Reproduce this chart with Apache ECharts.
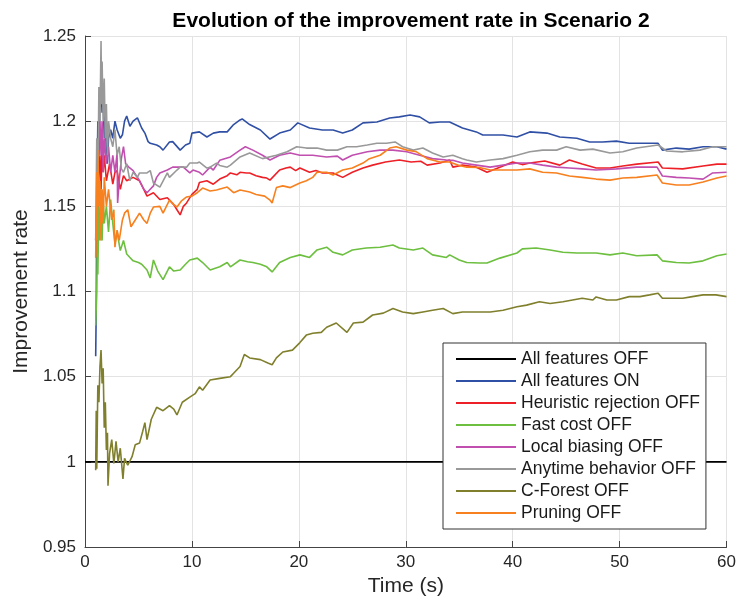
<!DOCTYPE html>
<html><head><meta charset="utf-8">
<script src="https://cdn.jsdelivr.net/npm/echarts@6/dist/echarts.min.js"></script>
<style>html,body{margin:0;padding:0;background:#fff}#c{width:739px;height:607px}</style>
</head><body><div id="c"></div>
<script>
const seriesNames = ["All features OFF","All features ON","Heuristic rejection OFF","Fast cost OFF","Local biasing OFF","Anytime behavior OFF","C-Forest OFF","Pruning OFF"];
const xTicks = [0,10,20,30,40,50,60];
const yTicks = [0.95,1,1.05,1.1,1.15,1.2,1.25];

const allOff = [[0,1],[60,1]];
const allOn = [[1.0,1.062],[1.05,1.09],[1.1,1.15],[1.2,1.20],[1.3,1.18],[1.4,1.215],[1.5,1.22],[1.6,1.205],[1.7,1.215],[1.8,1.19],[1.9,1.205],[2.0,1.18],[2.1,1.175],[2.2,1.19],[2.4,1.195],[2.6,1.19],[2.8,1.20],[3.0,1.195],[3.3,1.19],[3.5,1.192],[3.7,1.2],[3.9,1.203],[4.2,1.197],[4.5,1.2],[4.9,1.202],[5.3,1.196],[5.6,1.193],[5.9,1.188],[6.1,1.187],[6.7,1.186],[7.0,1.185],[7.3,1.183],[7.9,1.1878],[8.2,1.188],[8.9,1.183],[9.4,1.186],[9.8,1.187],[10.0,1.193],[10.7,1.1937],[11.4,1.1907],[12.0,1.193],[12.6,1.1937],[13.3,1.1937],[13.9,1.198],[14.5,1.2007],[14.7,1.2013],[15.4,1.198],[16.4,1.1948],[17.3,1.1895],[18.2,1.193],[19.2,1.1948],[19.9,1.199],[21.0,1.196],[22.2,1.1948],[23.2,1.1948],[24.1,1.193],[25.0,1.1948],[26.0,1.199],[27.3,1.1995],[28.5,1.2019],[29.4,1.2025],[30.4,1.2036],[31.3,1.2025],[32.2,1.199],[33.2,1.1995],[34.1,1.1995],[35.3,1.196],[36.6,1.1937],[37.2,1.1919],[37.9,1.1919],[39.1,1.1919],[40.4,1.1907],[41.6,1.1937],[43.2,1.193],[44.4,1.1907],[46.0,1.190],[47.2,1.1878],[48.4,1.1878],[49.7,1.1883],[50.9,1.187],[52.2,1.187],[53.6,1.187],[54.0,1.183],[55.3,1.1842],[56.5,1.1836],[57.8,1.185],[59.1,1.185],[60,1.1836]];
const heurOff = [[1.0,1.12],[1.1,1.125],[1.2,1.14],[1.3,1.17],[1.4,1.18],[1.5,1.16],[1.6,1.185],[1.7,1.17],[1.8,1.18],[2.0,1.165],[2.3,1.175],[2.6,1.163],[2.8,1.17],[3.0,1.171],[3.3,1.16],[3.6,1.168],[3.9,1.165],[4.5,1.167],[5.1,1.165],[5.5,1.16],[5.8,1.156],[6.4,1.158],[7.0,1.154],[7.7,1.155],[8.3,1.151],[8.6,1.148],[8.9,1.145],[9.2,1.15],[9.5,1.152],[10.0,1.157],[10.5,1.16],[10.7,1.164],[11.4,1.165],[12.0,1.163],[12.6,1.166],[13.3,1.168],[13.6,1.1696],[14.2,1.1685],[14.5,1.170],[15.1,1.1696],[15.4,1.1696],[16.0,1.168],[16.6,1.167],[17.0,1.1666],[17.3,1.1654],[17.7,1.168],[18.2,1.1713],[18.8,1.1725],[19.2,1.173],[19.7,1.171],[20.1,1.1725],[21.0,1.170],[21.6,1.171],[22.2,1.1696],[23.2,1.1696],[24.1,1.167],[25.0,1.170],[26.0,1.1725],[26.9,1.1742],[28.1,1.176],[29.4,1.1772],[30.5,1.176],[31.4,1.1765],[32.0,1.1742],[33.2,1.1754],[34.1,1.1772],[34.4,1.173],[35.3,1.1742],[36.6,1.173],[37.6,1.170],[38.8,1.173],[40.0,1.176],[40.9,1.1745],[41.6,1.1754],[43.0,1.1766],[44.4,1.1742],[45.3,1.1772],[46.5,1.1748],[47.8,1.1725],[49.1,1.1725],[50.3,1.1737],[51.6,1.1748],[53.6,1.176],[54.0,1.1725],[55.9,1.172],[57.8,1.1737],[59.1,1.1748],[60,1.1748]];
const fastOff = [[1.0,1.08],[1.1,1.10],[1.15,1.13],[1.2,1.11],[1.3,1.15],[1.4,1.13],[1.5,1.16],[1.6,1.13],[1.7,1.155],[1.8,1.14],[2.0,1.15],[2.2,1.135],[2.4,1.154],[2.6,1.14],[2.8,1.128],[3.0,1.135],[3.3,1.124],[3.6,1.13],[3.9,1.122],[4.2,1.12],[4.5,1.118],[5.0,1.117],[5.3,1.116],[5.8,1.1126],[6.1,1.108],[6.4,1.1185],[6.8,1.112],[7.3,1.107],[7.9,1.1145],[8.3,1.112],[8.9,1.1126],[9.4,1.116],[9.8,1.1185],[10.5,1.1196],[11.0,1.117],[11.7,1.1126],[12.6,1.1145],[13.3,1.117],[13.6,1.1145],[14.5,1.1185],[15.2,1.1175],[15.7,1.117],[16.4,1.116],[17.0,1.1145],[17.5,1.1115],[18.2,1.117],[19.2,1.120],[20.1,1.1215],[21.0,1.120],[21.7,1.1244],[22.6,1.126],[23.2,1.123],[24.1,1.1215],[25.0,1.1244],[26.3,1.1255],[27.6,1.126],[28.8,1.1273],[29.4,1.1255],[30.7,1.1244],[31.6,1.1255],[32.5,1.1215],[33.8,1.120],[34.1,1.1215],[35.0,1.1185],[35.7,1.117],[36.9,1.1167],[37.6,1.1167],[38.8,1.1196],[40.4,1.1226],[40.9,1.125],[42.2,1.1255],[43.5,1.1244],[44.7,1.123],[46.0,1.1226],[47.8,1.1226],[49.1,1.1215],[50.3,1.1226],[51.6,1.121],[53.5,1.1215],[54.0,1.118],[55.3,1.117],[56.5,1.1167],[57.8,1.118],[59.1,1.121],[60,1.122]];
const localOff = [[1.0,1.13],[1.1,1.15],[1.2,1.17],[1.3,1.19],[1.4,1.2],[1.5,1.18],[1.6,1.2],[1.7,1.17],[1.8,1.19],[2.0,1.175],[2.2,1.185],[2.4,1.17],[2.6,1.18],[2.8,1.17],[3.0,1.181],[3.05,1.152],[3.2,1.165],[3.4,1.178],[3.6,1.185],[3.8,1.175],[4.1,1.173],[4.5,1.171],[4.8,1.168],[5.1,1.165],[5.5,1.16],[5.8,1.158],[6.1,1.16],[6.4,1.162],[6.7,1.167],[7.0,1.1696],[7.7,1.1713],[8.2,1.173],[9.2,1.173],[9.8,1.1696],[10.1,1.1713],[10.7,1.170],[11.0,1.1684],[11.7,1.173],[12.0,1.1713],[12.6,1.177],[13.6,1.179],[14.5,1.183],[15.0,1.185],[15.7,1.183],[16.6,1.180],[17.3,1.1772],[18.2,1.180],[19.2,1.1813],[20.1,1.180],[21.3,1.180],[22.6,1.179],[23.6,1.1795],[24.1,1.1772],[25.0,1.180],[26.4,1.182],[27.6,1.183],[28.8,1.183],[30.1,1.182],[31.3,1.180],[32.5,1.178],[33.8,1.1772],[34.4,1.177],[35.3,1.1754],[36.6,1.1742],[37.9,1.173],[39.1,1.1742],[40.4,1.1754],[41.6,1.1754],[42.8,1.1742],[44.1,1.173],[45.3,1.1725],[46.5,1.172],[47.8,1.1713],[49.7,1.172],[51.6,1.173],[53.5,1.173],[54.0,1.1678],[55.3,1.167],[56.5,1.1666],[57.8,1.166],[58.7,1.1696],[60,1.170]];
const anytimeOff = [[1.0,1.13],[1.1,1.19],[1.2,1.16],[1.3,1.22],[1.4,1.20],[1.5,1.247],[1.55,1.21],[1.6,1.235],[1.7,1.20],[1.8,1.225],[1.9,1.19],[2.0,1.21],[2.1,1.18],[2.2,1.20],[2.4,1.19],[2.6,1.185],[2.8,1.195],[3.0,1.18],[3.2,1.185],[3.4,1.172],[3.6,1.17],[3.9,1.175],[4.2,1.165],[4.5,1.17],[4.9,1.167],[5.1,1.1696],[5.8,1.1696],[6.1,1.171],[6.4,1.1637],[7.0,1.1613],[7.7,1.1696],[7.9,1.167],[8.6,1.1713],[8.9,1.173],[9.5,1.173],[9.8,1.1754],[10.5,1.1754],[10.7,1.176],[11.4,1.1725],[11.7,1.173],[12.3,1.1754],[12.6,1.174],[13.3,1.173],[13.6,1.1742],[14.5,1.179],[15.4,1.1813],[16.6,1.178],[17.9,1.180],[18.9,1.182],[19.8,1.185],[20.7,1.1842],[21.7,1.1842],[22.6,1.183],[23.6,1.183],[24.5,1.185],[25.4,1.185],[26.4,1.186],[27.3,1.187],[28.2,1.187],[29.0,1.1878],[29.7,1.185],[30.7,1.183],[31.6,1.1842],[32.5,1.1813],[33.5,1.179],[34.4,1.18],[35.3,1.178],[35.7,1.1772],[36.6,1.176],[37.9,1.1772],[39.1,1.178],[40.4,1.180],[41.6,1.182],[42.8,1.183],[44.1,1.183],[45.0,1.185],[46.3,1.183],[47.5,1.1836],[49.1,1.1813],[50.3,1.182],[51.6,1.1842],[53.6,1.186],[54.4,1.1825],[55.9,1.182],[57.5,1.183],[58.7,1.185],[60,1.185]];
const cForestOff = [[1.0,0.995],[1.05,1.03],[1.1,0.996],[1.15,1.02],[1.2,1.045],[1.3,1.035],[1.4,1.056],[1.5,1.0656],[1.6,1.046],[1.7,1.055],[1.8,1.02],[1.9,1.035],[2.0,1.007],[2.1,1.017],[2.15,0.986],[2.3,1.005],[2.5,1.013],[2.7,0.999],[2.9,1.012],[3.1,1.0],[3.3,1.008],[3.55,0.990],[3.7,1.002],[4.0,0.998],[4.4,1.003],[4.7,1.01],[5.1,1.011],[5.4,1.018],[5.6,1.023],[5.8,1.013],[6.2,1.025],[6.7,1.032],[7.3,1.030],[7.9,1.033],[8.3,1.031],[8.6,1.0275],[9.1,1.035],[9.8,1.038],[10.3,1.040],[10.7,1.044],[11.0,1.042],[11.7,1.048],[12.6,1.049],[13.6,1.050],[13.9,1.052],[14.5,1.056],[14.9,1.063],[15.4,1.061],[16.4,1.060],[17.1,1.058],[17.5,1.057],[17.9,1.061],[18.5,1.0645],[19.4,1.0656],[20.1,1.070],[20.7,1.0744],[21.3,1.0755],[22.1,1.076],[22.6,1.079],[23.5,1.0815],[24.5,1.076],[25.1,1.0815],[26.0,1.082],[26.9,1.0862],[27.9,1.0873],[28.8,1.090],[29.7,1.088],[30.7,1.087],[31.6,1.088],[32.5,1.089],[33.5,1.090],[34.4,1.087],[35.3,1.088],[36.6,1.088],[37.9,1.088],[39.1,1.089],[40.4,1.091],[41.3,1.092],[42.5,1.094],[43.5,1.093],[44.7,1.094],[45.6,1.095],[46.5,1.096],[47.5,1.095],[47.8,1.0968],[48.8,1.095],[49.7,1.095],[50.9,1.097],[51.9,1.097],[52.8,1.098],[53.6,1.099],[54.0,1.096],[55.0,1.096],[55.9,1.096],[56.8,1.097],[57.8,1.098],[59.0,1.098],[60,1.097]];
const pruningOff = [[1.0,1.12],[1.1,1.17],[1.15,1.13],[1.2,1.183],[1.3,1.15],[1.4,1.165],[1.5,1.13],[1.6,1.16],[1.7,1.14],[1.8,1.167],[2.0,1.15],[2.2,1.16],[2.5,1.142],[2.7,1.148],[2.8,1.126],[3.0,1.136],[3.2,1.13],[3.5,1.142],[3.7,1.146],[4.0,1.148],[4.3,1.138],[4.7,1.142],[5.1,1.146],[5.5,1.142],[5.8,1.140],[6.1,1.146],[6.4,1.1496],[7.0,1.15],[7.3,1.146],[7.9,1.1537],[8.3,1.151],[8.6,1.1496],[9.0,1.153],[9.5,1.1555],[10.0,1.156],[10.5,1.158],[11.0,1.1607],[11.7,1.159],[12.3,1.1596],[13.3,1.1613],[13.9,1.158],[14.5,1.1596],[15.4,1.1584],[16.0,1.157],[16.8,1.156],[17.3,1.1537],[17.5,1.152],[17.9,1.161],[18.5,1.162],[19.2,1.161],[20.1,1.1637],[20.7,1.165],[21.3,1.167],[21.7,1.170],[22.6,1.170],[23.2,1.1684],[24.1,1.1713],[25.0,1.1725],[26.0,1.1754],[26.6,1.178],[27.6,1.180],[28.5,1.1842],[29.1,1.185],[30.1,1.183],[31.0,1.182],[32.0,1.178],[33.2,1.176],[34.1,1.176],[35.0,1.174],[35.7,1.173],[36.9,1.1728],[37.9,1.1713],[39.1,1.1713],[40.4,1.1713],[41.6,1.172],[42.8,1.170],[44.1,1.1696],[45.3,1.1678],[46.5,1.167],[47.8,1.166],[49.1,1.1654],[50.3,1.1666],[51.6,1.167],[53.5,1.1684],[54.0,1.1637],[55.3,1.1625],[56.5,1.1625],[57.8,1.1643],[59.1,1.1666],[60,1.1678]];

const seriesData = [allOff, allOn, heurOff, fastOff, localOff, anytimeOff, cForestOff, pruningOff];
const colors = ['#000000','#3050A5','#EE2027','#6CBF3F','#C04FB0','#999999','#7F7F2C','#F7801F'];
const FONT = "'Liberation Sans', Arial, Helvetica, sans-serif";

const chart = echarts.init(document.getElementById('c'), null, {renderer:'canvas'});
chart.setOption({
  animation: false,
  backgroundColor: '#ffffff',
  title: {
    text: 'Evolution of the improvement rate in Scenario 2',
    left: 406, top: 6, textAlign: 'center',
    textStyle: {fontFamily: FONT, fontSize: 21, fontWeight: 'bold', color: '#000'}
  },
  grid: {left: 85, right: 12, top: 36, bottom: 60, containLabel: false},
  legend: {
    orient: 'vertical', left: 443, top: 343,
    data: seriesNames,
    backgroundColor: '#fff', borderColor: '#333', borderWidth: 1,
    padding: [7, 6, 7, 12],
    itemWidth: 60, itemHeight: 14, itemGap: 4,
    itemStyle: {opacity: 0},
    textStyle: {fontFamily: FONT, fontSize: 17.5, color: '#1a1a1a'},
    selectedMode: false
  },
  xAxis: {
    type: 'value', min: xTicks[0], max: xTicks[xTicks.length-1], interval: 10,
    name: 'Time (s)', nameLocation: 'middle', nameGap: 27,
    nameTextStyle: {fontFamily: FONT, fontSize: 21, color: '#262626'},
    axisLine: {show: true, lineStyle: {color: '#444', width: 1}},
    axisTick: {show: true, inside: true, length: 6, lineStyle: {color: '#444'}},
    axisLabel: {fontFamily: FONT, fontSize: 17, color: '#262626', margin: 7},
    splitLine: {show: true, lineStyle: {color: '#e3e3e3', width: 1}}
  },
  yAxis: {
    type: 'value', min: yTicks[0], max: yTicks[yTicks.length-1], interval: 0.05,
    name: 'Improvement rate', nameLocation: 'middle', nameGap: 51,
    nameTextStyle: {fontFamily: FONT, fontSize: 21, color: '#262626'},
    axisLine: {show: true, lineStyle: {color: '#444', width: 1}},
    axisTick: {show: true, inside: true, length: 6, lineStyle: {color: '#444'}},
    axisLabel: {fontFamily: FONT, fontSize: 17, color: '#262626', margin: 9,
      formatter: v => String(+v.toFixed(2))},
    splitLine: {show: true, lineStyle: {color: '#e3e3e3', width: 1}}
  },
  series: seriesNames.map((n, i) => ({
    name: n, type: 'line', data: seriesData[i], symbol: 'none', showSymbol: false,
    lineStyle: {color: colors[i], width: 1.6}, itemStyle: {color: colors[i]},
    clip: true
  }))
});
</script></body></html>
